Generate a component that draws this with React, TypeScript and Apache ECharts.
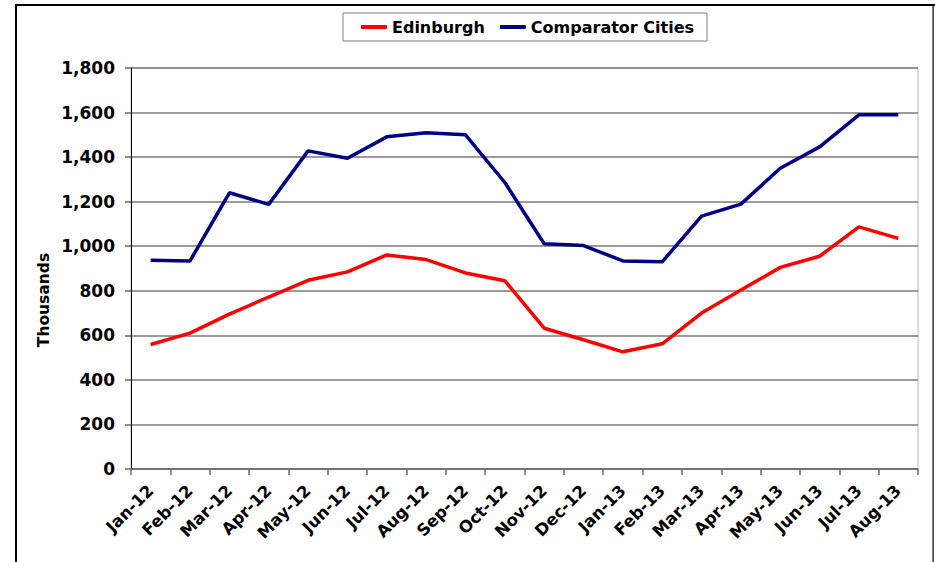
import React, { useEffect, useRef } from "react";
import * as echarts from "echarts";

const months = [
  "Jan-12", "Feb-12", "Mar-12", "Apr-12", "May-12", "Jun-12", "Jul-12", "Aug-12",
  "Sep-12", "Oct-12", "Nov-12", "Dec-12", "Jan-13", "Feb-13", "Mar-13", "Apr-13",
  "May-13", "Jun-13", "Jul-13", "Aug-13",
];
const edinburgh = [559, 610, 695, 772, 847, 885, 961, 940, 880, 845, 632, 580, 526, 562, 700, 803, 905, 955, 1087, 1035];
const comparator = [937, 934, 1240, 1188, 1428, 1395, 1491, 1509, 1500, 1286, 1011, 1003, 934, 930, 1135, 1189, 1350, 1446, 1590, 1590];
const yMin = 0;
const yMax = 1800;
const yStep = 200;
const yAxisTitle = "Thousands";

const FONT = "'DejaVu Sans', Verdana, sans-serif";

export default function App() {
  const ref = useRef<HTMLDivElement>(null);
  useEffect(() => {
    document.body.style.margin = "0";
    const chart = echarts.init(ref.current!, null, { renderer: "svg" });
    chart.setOption({
      animation: false,
      backgroundColor: "#fff",
      textStyle: { fontFamily: FONT },
      grid: {
        left: 131,
        right: 17,
        top: 68,
        bottom: 93,
        containLabel: false,
        outerBoundsMode: "none",
        show: true,
        borderColor: "#b8b8b8",
        borderWidth: 1,
      },
      legend: {
        left: 343,
        top: 13,
        padding: [6, 13, 6, 18],
        borderColor: "#808080",
        borderWidth: 1,
        itemGap: 15,
        itemWidth: 26,
        itemHeight: 4,
        icon: "roundRect",
        textStyle: { fontFamily: FONT, fontWeight: "bold", fontSize: 16, color: "#000" },
        data: ["Edinburgh", "Comparator Cities"],
      },
      xAxis: {
        type: "category",
        data: months,
        boundaryGap: true,
        axisLine: { lineStyle: { color: "#6a6a6a", width: 1.5 } },
        axisTick: { show: true, length: 6, alignWithLabel: false, lineStyle: { color: "#6a6a6a", width: 1.5 } },
        axisLabel: {
          interval: 0,
          rotate: 45,
          margin: 19,
          fontFamily: FONT,
          fontWeight: "bold",
          fontSize: 16.5,
          color: "#000",
        },
        splitLine: { show: false },
      },
      yAxis: {
        type: "value",
        min: yMin,
        max: yMax,
        interval: yStep,
        axisLine: { show: true, lineStyle: { color: "#000", width: 1 } },
        axisTick: { show: true, length: 6, lineStyle: { color: "#6a6a6a", width: 1.5 } },
        axisLabel: {
          margin: 16,
          fontFamily: FONT,
          fontWeight: "bold",
          fontSize: 17,
          color: "#000",
          formatter: (v: number) => v.toLocaleString("en-US"),
        },
        splitLine: { show: true, lineStyle: { color: "#7a7a7a", width: 1.5 } },
      },
      series: [
        {
          name: "Edinburgh",
          type: "line",
          data: edinburgh,
          symbol: "none",
          color: "#ff0000",
          lineStyle: { color: "#ff0000", width: 3.5 },
        },
        {
          name: "Comparator Cities",
          type: "line",
          data: comparator,
          symbol: "none",
          color: "#000080",
          lineStyle: { color: "#000080", width: 3.5 },
        },
      ],
      graphic: [
        { type: "rect", shape: { x: 15, y: 4, width: 920, height: 2 }, style: { fill: "#000" }, silent: true },
        { type: "rect", shape: { x: 15, y: 4, width: 2, height: 560 }, style: { fill: "#000" }, silent: true },
        { type: "rect", shape: { x: 932.5, y: 4, width: 1.2, height: 560 }, style: { fill: "#000" }, silent: true },
        {
          type: "text",
          x: 44,
          y: 300,
          rotation: Math.PI / 2,
          style: {
            text: yAxisTitle,
            fill: "#000",
            font: `bold 15.5px ${FONT}`,
            textAlign: "center",
            textVerticalAlign: "middle",
          },
          silent: true,
        },
      ],
    });
    return () => chart.dispose();
  }, []);
  return <div ref={ref} style={{ width: 935, height: 562 }} />;
}
